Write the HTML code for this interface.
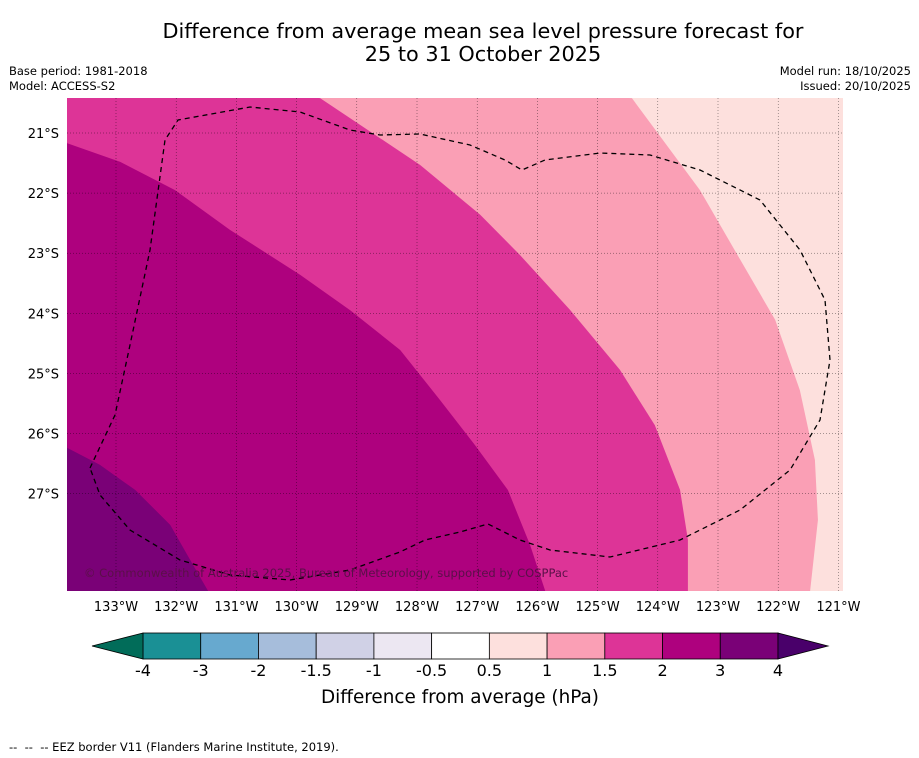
<!DOCTYPE html>
<html><head><meta charset="utf-8"><style>
body{margin:0;background:#fff;font-family:"DejaVu Sans","Liberation Sans",sans-serif}
svg{display:block}
</style></head><body>
<svg id="c" width="919" height="758" viewBox="0 0 919 758" font-family="DejaVu Sans, Liberation Sans, sans-serif">
<text x="483" y="38" font-size="20.8" text-anchor="middle">Difference from average mean sea level pressure forecast for</text>
<text x="483" y="61" font-size="20.8" text-anchor="middle">25 to 31 October 2025</text>
<text x="9" y="75" font-size="11.5">Base period: 1981-2018</text>
<text x="9" y="90" font-size="11.5">Model: ACCESS-S2</text>
<text x="911" y="75" font-size="11.5" text-anchor="end">Model run: 18/10/2025</text>
<text x="911" y="90" font-size="11.5" text-anchor="end">Issued: 20/10/2025</text>
<defs><clipPath id="mc"><rect x="67" y="98" width="776" height="493"/></clipPath></defs>
<g id="map" clip-path="url(#mc)"></g>
<g id="ticks"></g>
<g id="cbar"></g>
<text x="460" y="703" font-size="18.4" text-anchor="middle">Difference from average (hPa)</text>
<text x="9" y="751" font-size="11.5" xml:space="preserve">--  --  -- EEZ border V11 (Flanders Marine Institute, 2019).</text>
</svg>
<script>
const NS="http://www.w3.org/2000/svg";
const levels=[-4,-3,-2,-1.5,-1,-0.5,0.5,1,1.5,2,3,4];
const levelColors=["#1a9095","#67a9cf","#a6bddb","#d0d1e6","#ece7f2","#ffffff","#fde0dd","#fa9fb5","#dd3497","#ae017e","#7a0177"];
const lonTicks=[133,132,131,130,129,128,127,126,125,124,123,122,121];
const latTicks=[21,22,23,24,25,26,27];
// contour boundaries [lonW, latS]
const bound1=[[124.43,20.42],[123.30,21.95],[122.63,23.11],[122.05,24.11],[121.64,25.28],[121.39,26.44],[121.34,27.44],[121.47,28.62]];
const bound2=[[129.61,20.42],[127.95,21.53],[126.95,22.36],[126.29,23.03],[125.46,23.94],[124.63,24.94],[124.05,25.86],[123.63,26.94],[123.5,27.77],[123.5,28.62]];
const bound3=[[133.81,21.17],[132.93,21.48],[132.02,21.95],[131.11,22.61],[129.94,23.36],[129.11,23.95],[128.28,24.61],[127.62,25.44],[127.04,26.19],[126.49,26.94],[126.12,27.86],[125.87,28.62]];
const bound4=[[133.81,26.24],[133.27,26.52],[132.68,26.94],[132.10,27.52],[131.77,28.10],[131.47,28.62]];
const X=lon=>116+(133-lon)*60.2;
const Y=lat=>133+(lat-21)*60.1;
function mk(t,a,p){const e=document.createElementNS(NS,t);for(const k in a)e.setAttribute(k,a[k]);(p||document.getElementById('c')).appendChild(e);return e;}
const map=document.getElementById('map');
const bg=mk('rect',{x:67,y:98,width:776,height:493,fill:"#fde0dd"},map);


function region(b,col,name){
  const pts=b.map(p=>X(p[0])+","+Y(p[1]));
  const last=b[b.length-1];
  pts.push(X(134)+","+Y(last[1]+1));pts.push(X(134)+","+Y(20));
  const e=mk('polygon',{points:pts.join(" "),fill:col},map);
  
  
}
region(bound1,"#fa9fb5","contour-1-1.5");
region(bound2,"#dd3497","contour-1.5-2");
region(bound3,"#ae017e","contour-2-3");
region(bound4,"#7a0177","contour-3-4");
lonTicks.forEach(l=>{const e=mk('line',{x1:X(l),x2:X(l),y1:98,y2:591,stroke:"#000","stroke-width":0.5,"stroke-dasharray":"1,2","stroke-opacity":0.7},map);
});
latTicks.forEach(l=>{const e=mk('line',{x1:67,x2:843,y1:Y(l),y2:Y(l),stroke:"#000","stroke-width":0.5,"stroke-dasharray":"1,2","stroke-opacity":0.7},map);
});
const eez=mk('path',{d:"M90,468 L115,415 L130,345 L150,250 L165,140 L178,120 L250,107 L300,112 L350,130 L380,135 L420,134 L470,145 L505,160 L522,170 L545,160 L600,153 L650,155 L700,170 L760,200 L800,250 L825,300 L830,360 L820,420 L790,470 L740,510 L680,540 L610,557 L550,550 L520,540 L488,524 L460,532 L425,540 L400,552 L350,570 L290,580 L230,575 L180,560 L130,530 L100,495 Z",fill:"none",stroke:"#000","stroke-width":1.3,"stroke-dasharray":"5,4"},map);


const cr=mk('text',{x:84,y:577,"font-size":11.5,fill:"#5a1048"},map);
cr.textContent="© Commonwealth of Australia 2025, Bureau of Meteorology, supported by COSPPac";


const tk=document.getElementById('ticks');
lonTicks.forEach(l=>{const e=mk('text',{x:X(l),y:611,"font-size":13,"text-anchor":"middle"},tk);e.textContent=l+"°W";
});
latTicks.forEach(l=>{const e=mk('text',{x:59,y:Y(l)+5,"font-size":13,"text-anchor":"end"},tk);e.textContent=l+"°S";
});
const cb=document.getElementById('cbar');
const x0=143,x1=778,w=(x1-x0)/levelColors.length,cy0=633,cy1=659;
levelColors.forEach((col,i)=>{const e=mk('rect',{x:x0+i*w,y:cy0,width:w,height:cy1-cy0,fill:col,stroke:"#000","stroke-width":0.8},cb);
});
const lt=mk('polygon',{points:`${x0},${cy0} 92,646 ${x0},${cy1}`,fill:"#016c59",stroke:"#000","stroke-width":0.8},cb);

const rt=mk('polygon',{points:`${x1},${cy0} 828,646 ${x1},${cy1}`,fill:"#49006a",stroke:"#000","stroke-width":0.8},cb);

levels.forEach((v,i)=>{const e=mk('text',{x:x0+i*w,y:676,"font-size":16,"text-anchor":"middle"},cb);e.textContent=String(v);
});
</script>
</body></html>
